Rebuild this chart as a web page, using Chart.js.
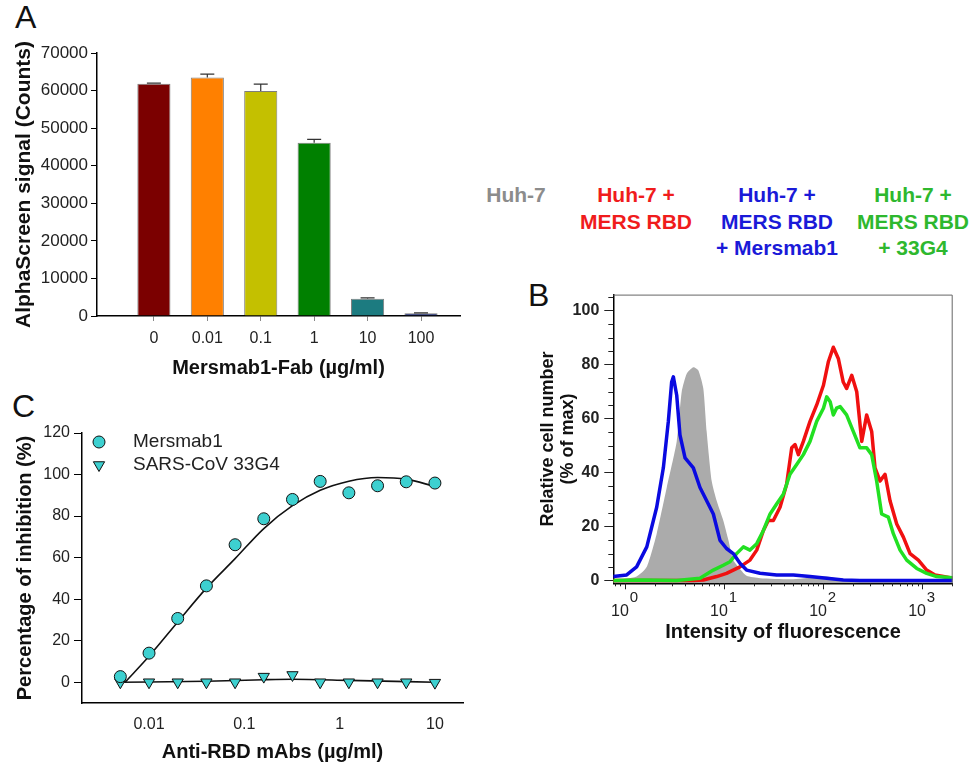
<!DOCTYPE html>
<html>
<head>
<meta charset="utf-8">
<script src="https://cdn.jsdelivr.net/npm/chart.js@4.4.0/dist/chart.umd.min.js"></script>
<style>
  body { margin: 0; background: #fff; width: 974px; height: 764px; position: relative; overflow: hidden;
         font-family: "Liberation Sans", Arial, sans-serif; }
  canvas { position: absolute; }
  .panel { position: absolute; font-size: 32px; line-height: 32px; color: #111; }
  .leg { position: absolute; font-weight: bold; font-size: 21px; line-height: 26.5px; text-align: center;
         white-space: nowrap; transform: translateX(-50%); }
</style>
</head>
<body>
<div class="panel" style="left:15px;top:1px">A</div>
<div class="panel" style="left:528px;top:279px">B</div>
<div class="panel" style="left:12px;top:390px">C</div>

<div class="leg" style="left:516px;top:182px;color:#8c8c8c">Huh-7</div>
<div class="leg" style="left:636px;top:182px;color:#f01c1c">Huh-7 +<br>MERS RBD</div>
<div class="leg" style="left:777px;top:182px;color:#1a1ad8">Huh-7 +<br>MERS RBD<br>+ Mersmab1</div>
<div class="leg" style="left:913px;top:182px;color:#2eb82e">Huh-7 +<br>MERS RBD<br>+ 33G4</div>

<canvas id="chartA" width="470" height="385" style="left:0;top:0"></canvas>
<canvas id="chartB" width="444" height="370" style="left:530px;top:280px"></canvas>
<canvas id="chartC" width="480" height="369" style="left:0;top:395px"></canvas>

<script>
/*
PANEL A - AlphaScreen bars
*/
const doseLabels = ['0', '0.01', '0.1', '1', '10', '100'];
const signalMean = [61800, 63500, 59900, 46100, 4600, 700];
const signalErr = [200, 900, 1800, 900, 200, 150];
const barColors = ['#7b0000', '#ff8000', '#c4c000', '#008000', '#1c7b80', '#1c2a6e'];

/*
PANEL B - flow cytometry histograms
*/
const fluoDecades = [0, 1, 2, 3];
const huh7X = [0.76, 1.31, 1.66, 2.09, 2.64, 3.33, 3.74, 4.2, 4.9, 5.51, 6.18, 6.68, 7.51, 8.43, 9.83, 11.1, 12.4, 14.5, 16.9, 23.1, 50.1, 109, 160, 236, 2040];
const huh7Y = [0, 1.5, 5.1, 17.4, 34.5, 51.6, 70, 76.7, 79.1, 77.9, 71.2, 55.3, 36.9, 29.6, 22.3, 14.9, 7.6, 4.3, 1.8, 0.9, 0.5, 1.5, 0.2, 0, 0];
const rbdX = [0.76, 1.53, 4.9, 6.18, 8.43, 10.6, 14.5, 18.3, 21.4, 25.0, 28.0, 31.5, 36.8, 42.9, 48.3, 52.2, 56.4, 63.3, 73.9, 86.3, 101, 113, 127, 143, 160, 173, 195, 219, 246, 276, 310, 335, 377, 423, 475, 555, 648, 757, 918, 1114, 1352, 1641, 2040];
const rbdY = [0, 0, 0, 0.2, 1.5, 2.7, 5.1, 7.6, 11.3, 18.6, 22.3, 22.3, 27.2, 35.7, 49.2, 50.4, 46.7, 51.6, 59, 65.1, 72.4, 81, 86.5, 82.2, 73.6, 71.2, 76.1, 70, 51.6, 61.4, 55.3, 41.8, 36.9, 39.4, 29.6, 21, 16.1, 10, 7.6, 3.9, 2.1, 1.5, 0.9];
const mersmabX = [0.76, 1.04, 1.31, 1.66, 2.09, 2.44, 2.74, 2.96, 3.08, 3.33, 3.59, 4.04, 4.9, 5.72, 6.68, 7.8, 9.11, 10.6, 12.4, 14.5, 16.9, 23.1, 34.0, 50.1, 73.9, 109, 160, 236, 513, 2040];
const mersmabY = [1.5, 2.1, 5.1, 12.5, 27.2, 41.8, 59, 73.6, 75.5, 68.7, 54, 45.5, 41.8, 34.5, 29.6, 24.7, 14.9, 11.9, 10, 6.4, 3.9, 2.7, 2.1, 2.1, 1.5, 0.9, 0.2, 0, 0, 0];
const g4X = [0.76, 1.53, 3.33, 5.72, 7.8, 9.83, 11.5, 13.4, 15.7, 18.3, 21.4, 25.0, 29.2, 34.0, 39.7, 46.4, 54.2, 63.3, 73.9, 86.3, 101, 109, 118, 127, 137, 149, 173, 202, 236, 276, 310, 348, 391, 457, 513, 600, 700, 884, 1114, 1406, 2040];
const g4Y = [0, 0.2, 0, 0.9, 3.9, 5.7, 7, 10, 12.5, 11.3, 13.7, 18.6, 24.7, 28.4, 32, 39.4, 43, 46.7, 51.6, 59, 63.9, 68.1, 66.3, 61.4, 63.9, 64.5, 61.4, 55.3, 49.2, 49.2, 46.7, 36.9, 24.7, 23.5, 17.4, 11.3, 7.6, 4.5, 2.7, 1.5, 1.1];

/*
PANEL C - inhibition curves
*/
const mabConc = [0.005, 0.01, 0.02, 0.04, 0.08, 0.16, 0.32, 0.625, 1.25, 2.5, 5, 10];
const mersmab1Inh = [2.7, 14.0, 30.7, 46.4, 66.2, 78.7, 88.0, 96.7, 91.2, 94.6, 96.5, 95.9];
const g4Inh = [0, 0, 0, 0, 0, 2.7, 3.5, 0, 0, 0, 0, -0.2];
const fitConc = [0.0056, 0.01, 0.02, 0.04, 0.08, 0.16, 0.32, 0.625, 1.25, 2.5, 5, 10];
const mersmab1Fit = [0, 12.5, 29, 45.3, 59.5, 74, 85, 92.4, 96.8, 98.6, 97.8, 94.2];
const g4FitConc = [0.005, 0.04, 0.16, 0.32, 1.25, 10];
const g4Fit = [0, 0.5, 1.2, 1.4, 0.9, 0];
const mabTicks = [0.01, 0.1, 1, 10];
const seriesNames = ['Mersmab1', 'SARS-CoV 33G4'];

Chart.defaults.font.family = '"Liberation Sans", Arial, sans-serif';
Chart.defaults.color = '#222';

const toPoints = (xs, ys) => xs.map((x, i) => ({x: x, y: ys[i]}));

// error bars on top of each bar
const errorBars = {
  id: 'errorBars',
  afterDatasetsDraw(chart) {
    const meta = chart.getDatasetMeta(0);
    const y = chart.scales.y;
    const ctx = chart.ctx;
    ctx.save();
    ctx.strokeStyle = '#333';
    ctx.lineWidth = 1.2;
    meta.data.forEach((bar, i) => {
      const top = y.getPixelForValue(signalMean[i] + signalErr[i]);
      ctx.beginPath();
      ctx.moveTo(bar.x, bar.y);
      ctx.lineTo(bar.x, top);
      ctx.moveTo(bar.x - 7, top);
      ctx.lineTo(bar.x + 7, top);
      ctx.stroke();
    });
    ctx.restore();
  }
};

new Chart(document.getElementById('chartA'), {
  type: 'bar',
  data: {
    datasets: [{
      data: toPoints(doseLabels.map((_, i) => i), signalMean),
      backgroundColor: barColors,
      borderColor: 'rgba(40,40,40,0.6)',
      borderWidth: 1,
      barPercentage: 0.62,
      categoryPercentage: 1
    }]
  },
  options: {
    responsive: false,
    animation: false,
    layout: {padding: {top: 53, right: 10, left: 0, bottom: 0}},
    plugins: {legend: {display: false}, tooltip: {enabled: false}},
    scales: {
      x: {
        type: 'linear', min: -1.065, max: 5.73, offset: false,
        afterBuildTicks: s => { s.ticks = doseLabels.map((_, i) => ({value: i})); },
        afterFit: s => { s.height = 69; },
        ticks: {callback: v => doseLabels[v], font: {size: 16}, padding: 8, maxRotation: 0, autoSkip: false},
        grid: {drawOnChartArea: false, offset: false, tickLength: 5, color: '#888'},
        border: {color: '#000', width: 1.5},
        title: {display: true, text: 'Mersmab1-Fab (µg/ml)', font: {size: 20, weight: 'bold'}, color: '#111', padding: {top: 0, bottom: 5}}
      },
      y: {
        min: 0, max: 70000,
        afterFit: s => { s.width = 97; },
        ticks: {stepSize: 10000, font: {size: 17}, padding: 3, callback: v => String(v)},
        grid: {drawOnChartArea: false, tickLength: 6, color: '#000'},
        border: {color: '#000', width: 1.5},
        title: {display: true, text: 'AlphaScreen signal (Counts)', font: {size: 21, weight: 'bold'}, color: '#111', padding: {top: 12, bottom: 0}}
      }
    }
  },
  plugins: [errorBars]
});

// minor ticks, decade labels and the box of the histogram panel
const flowAxes = {
  id: 'flowAxes',
  afterDraw(chart) {
    const {ctx, chartArea: a, scales: {x, y}} = chart;
    ctx.save();
    ctx.strokeStyle = '#222';
    ctx.lineWidth = 1;
    for (let v = 0; v <= 105; v += 5) {
      if (v % 20 === 0) continue;
      const py = Math.round(y.getPixelForValue(v)) + 0.5;
      ctx.beginPath();
      ctx.moveTo(a.left - 5, py);
      ctx.lineTo(a.left, py);
      ctx.stroke();
    }
    for (let e = -1; e <= 3; e++) {
      for (let m = 1; m <= 9; m++) {
        const v = m * Math.pow(10, e);
        if (v < x.min || v > x.max) continue;
        const px = Math.round(x.getPixelForValue(v)) + 0.5;
        ctx.beginPath();
        ctx.moveTo(px, a.bottom);
        ctx.lineTo(px, a.bottom + (m === 1 ? 6 : 3));
        ctx.stroke();
      }
    }
    ctx.fillStyle = '#222';
    ctx.textAlign = 'center';
    ctx.textBaseline = 'middle';
    fluoDecades.forEach(e => {
      const px = x.getPixelForValue(Math.pow(10, e));
      ctx.font = '16px "Liberation Sans", Arial, sans-serif';
      ctx.fillText('10', px - 5, a.bottom + 28);
      ctx.font = '15px "Liberation Sans", Arial, sans-serif';
      ctx.fillText(String(e), px + 9, a.bottom + 15);
    });
    ctx.strokeStyle = '#666';
    ctx.beginPath();
    ctx.moveTo(a.left, a.top + 0.5);
    ctx.lineTo(a.right - 0.5, a.top + 0.5);
    ctx.lineTo(a.right - 0.5, a.bottom);
    ctx.stroke();
    ctx.restore();
  }
};

const histLine = (xs, ys, color) => ({
  data: toPoints(xs, ys), borderColor: color, borderWidth: 3.5, pointRadius: 0,
  fill: false, tension: 0, borderJoinStyle: 'round'
});

new Chart(document.getElementById('chartB'), {
  type: 'line',
  data: {
    datasets: [
      histLine(mersmabX, mersmabY, '#0a0ae0'),
      histLine(g4X, g4Y, '#22e022'),
      histLine(rbdX, rbdY, '#f01010'),
      {data: toPoints(huh7X, huh7Y), borderWidth: 0, borderColor: 'rgba(0,0,0,0)',
       backgroundColor: '#ababab', pointRadius: 0, fill: 'start', tension: 0.2}
    ]
  },
  options: {
    responsive: false,
    animation: false,
    layout: {padding: {top: 11.7, right: 21.3, left: 0, bottom: 0}},
    plugins: {legend: {display: false}, tooltip: {enabled: false}},
    scales: {
      x: {
        type: 'logarithmic', min: 0.762, max: 2040,
        afterFit: s => { s.height = 66.7; },
        ticks: {display: false},
        grid: {display: false},
        border: {color: '#000', width: 1.5},
        title: {display: true, text: 'Intensity of fluorescence', font: {size: 20, weight: 'bold'}, color: '#111', padding: {top: 0, bottom: 6}}
      },
      y: {
        min: -1, max: 106,
        afterBuildTicks: s => { s.ticks = [0, 20, 40, 60, 80, 100].map(v => ({value: v})); },
        afterFit: s => { s.width = 83.3; },
        ticks: {font: {size: 16, weight: 'bold'}, padding: 5},
        grid: {drawOnChartArea: false, tickLength: 9, color: '#222'},
        border: {color: '#000', width: 1.5},
        title: {display: true, text: ['Relative cell number', '(% of max)'], font: {size: 18, weight: 'bold', lineHeight: 1.1}, color: '#111', padding: {top: 8, bottom: 0}}
      }
    }
  },
  plugins: [flowAxes]
});

// legend inside the plot area of panel C
const legendC = {
  id: 'legendC',
  afterDraw(chart) {
    const ctx = chart.ctx;
    chart.data.datasets.slice(0, 2).forEach((ds, i) => {
      const y = 47 + i * 23;
      ctx.save();
      ctx.fillStyle = ds.backgroundColor;
      ctx.strokeStyle = ds.borderColor;
      ctx.lineWidth = ds.borderWidth;
      Chart.helpers.drawPoint(ctx, {pointStyle: ds.pointStyle, radius: ds.pointRadius, rotation: ds.rotation || 0, borderWidth: ds.borderWidth}, 99, y);
      ctx.fillStyle = '#222';
      ctx.font = '19px "Liberation Sans", Arial, sans-serif';
      ctx.textBaseline = 'middle';
      ctx.fillText(seriesNames[i], 133, y);
      ctx.restore();
    });
  }
};

new Chart(document.getElementById('chartC'), {
  type: 'scatter',
  data: {
    datasets: [
      {data: toPoints(mabConc, mersmab1Inh), pointStyle: 'circle', pointRadius: 6, rotation: 0,
       backgroundColor: '#3dd0d0', borderColor: '#111', borderWidth: 1},
      {data: toPoints(mabConc, g4Inh), pointStyle: 'triangle', pointRadius: 6.5, rotation: 180,
       backgroundColor: '#3dd0d0', borderColor: '#111', borderWidth: 1},
      {data: toPoints(fitConc, mersmab1Fit), showLine: true, pointRadius: 0, borderColor: '#111',
       borderWidth: 1.6, cubicInterpolationMode: 'monotone'},
      {data: toPoints(g4FitConc, g4Fit), showLine: true, pointRadius: 0, borderColor: '#111',
       borderWidth: 1.6, cubicInterpolationMode: 'monotone'}
    ]
  },
  options: {
    responsive: false,
    animation: false,
    layout: {padding: {top: 38, right: 17, left: 0, bottom: 0}},
    plugins: {legend: {display: false}, tooltip: {enabled: false}},
    scales: {
      x: {
        type: 'logarithmic', min: 0.00198, max: 19.7,
        afterBuildTicks: s => { s.ticks = mabTicks.map(v => ({value: v})); },
        afterFit: s => { s.height = 61; },
        ticks: {callback: v => String(v), font: {size: 16}, padding: 12, maxRotation: 0, autoSkip: false},
        grid: {display: false, drawTicks: false},
        border: {color: '#000', width: 1.5},
        title: {display: true, text: 'Anti-RBD mAbs (µg/ml)', font: {size: 20, weight: 'bold'}, color: '#111', padding: {top: 0, bottom: 0}}
      },
      y: {
        min: -10, max: 120,
        afterBuildTicks: s => { s.ticks = [0, 20, 40, 60, 80, 100, 120].map(v => ({value: v})); },
        afterFit: s => { s.width = 82; },
        ticks: {font: {size: 16}, padding: 4},
        grid: {drawOnChartArea: false, tickLength: 8, color: '#000'},
        border: {color: '#000', width: 1.5},
        title: {display: true, text: 'Percentage of inhibition (%)', font: {size: 20, weight: 'bold'}, color: '#111', padding: {top: 13, bottom: 0}}
      }
    }
  },
  plugins: [legendC]
});
</script>
</body>
</html>
